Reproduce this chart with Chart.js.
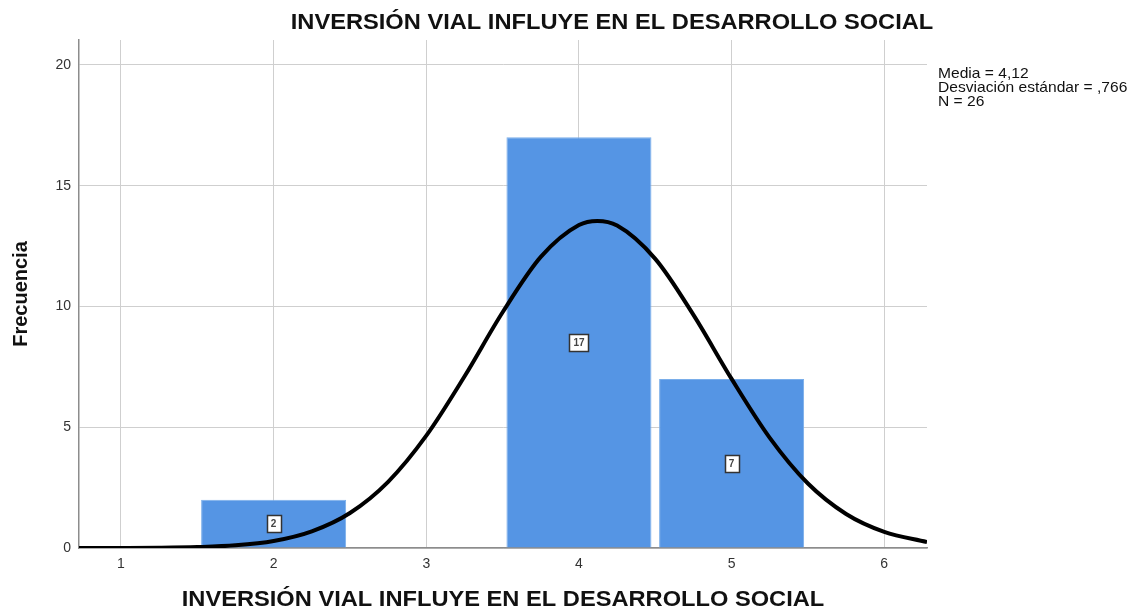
<!DOCTYPE html>
<html>
<head>
<meta charset="utf-8">
<script src="https://cdn.jsdelivr.net/npm/chart.js@4/dist/chart.umd.min.js"></script>
<style>
  html, body { margin: 0; padding: 0; background: #fff; }
  #wrap { width: 1137px; height: 609px; }
</style>
</head>
<body>
<div id="wrap"><canvas id="histo" width="1137" height="609"></canvas></div>
<script>
// --- datos del histograma ---
var binCenters = [2, 4, 5];
var frequencies = [2, 17, 7];

// curva normal
var curveX = [0.725, 1, 1.25, 1.5, 1.75, 2, 2.25, 2.5, 2.75, 3, 3.25, 3.5, 3.75, 4, 4.12, 4.25, 4.5, 4.75, 5, 5.25, 5.5, 5.75, 6, 6.28];
var curveY = [0.0, 0.003, 0.012, 0.04, 0.11, 0.29, 0.69, 1.45, 2.74, 4.65, 7.10, 9.76, 12.05, 13.37, 13.54, 13.35, 11.97, 9.65, 7.00, 4.56, 2.67, 1.41, 0.67, 0.25];

var xTicks = [1, 2, 3, 4, 5, 6];
var yTicks = [0, 5, 10, 15, 20];

var titleText = 'INVERSIÓN VIAL INFLUYE EN EL DESARROLLO SOCIAL';
var yTitle = 'Frecuencia';
var statsLines = ['Media = 4,12', 'Desviación estándar = ,766', 'N = 26'];

var FONT = '"Liberation Sans", Arial, sans-serif';
var STRETCH = 1.075; // el original está algo estirado en horizontal

// texto estirado horizontalmente
function stretchText(ctx, txt, x, y, align) {
    var w = ctx.measureText(txt).width * STRETCH;
    var left = x;
    if (align === 'center') left = x - w / 2;
    ctx.save();
    ctx.textAlign = 'left';
    ctx.translate(left, y);
    ctx.scale(STRETCH, 1);
    ctx.fillText(txt, 0, 0);
    ctx.restore();
}

// --- textos y etiquetas de las barras ---
var textPlugin = {
    id: 'spssText',
    afterDatasetsDraw: function(chart) {
        var ctx = chart.ctx;
        ctx.save();

        // etiquetas de frecuencia dentro de las barras
        var meta = chart.getDatasetMeta(1);
        ctx.font = 'bold 10px ' + FONT;
        ctx.textAlign = 'center';
        ctx.textBaseline = 'middle';
        meta.data.forEach(function(bar, i) {
            var txt = String(frequencies[i]);
            var cy = (bar.y + bar.base) / 2;
            var w = Math.round(ctx.measureText(txt).width + 8);
            var h = 17;
            var bx = Math.round(bar.x - w / 2) + 0.5;
            var by = Math.round(cy - h / 2) + 0.5;
            ctx.fillStyle = '#fff';
            ctx.fillRect(bx, by, w, h);
            ctx.strokeStyle = '#333';
            ctx.lineWidth = 1.5;
            ctx.strokeRect(bx, by, w, h);
            ctx.fillStyle = '#444';
            ctx.fillText(txt, bar.x, cy + 1);
        });
        ctx.restore();
    },
    afterDraw: function(chart) {
        var ctx = chart.ctx;
        var area = chart.chartArea;
        ctx.save();
        ctx.fillStyle = '#111';
        ctx.textBaseline = 'middle';

        // título principal
        ctx.font = 'bold 22px ' + FONT;
        stretchText(ctx, titleText, 612, 23, 'center');

        // título eje x
        stretchText(ctx, titleText, (area.left + area.right) / 2, 600, 'center');

        // título eje y
        ctx.save();
        ctx.translate(21, (area.top + area.bottom) / 2);
        ctx.rotate(-Math.PI / 2);
        ctx.font = 'bold 20px ' + FONT;
        ctx.textAlign = 'center';
        ctx.fillText(yTitle, 0, 0);
        ctx.restore();

        // estadísticos
        ctx.font = '14.5px ' + FONT;
        ctx.fillStyle = '#111';
        statsLines.forEach(function(line, i) {
            stretchText(ctx, line, 938, 73.5 + i * 14, 'left');
        });
        ctx.restore();
    }
};

var ctx = document.getElementById('histo').getContext('2d');
var chart = new Chart(ctx, {
    data: {
        datasets: [
            {
                type: 'line',
                data: curveX.map(function(x, i) { return { x: x, y: curveY[i] }; }),
                borderColor: '#000',
                borderWidth: 4,
                pointRadius: 0,
                cubicInterpolationMode: 'monotone',
                fill: false,
                order: 0
            },
            {
                type: 'bar',
                data: binCenters.map(function(x, i) { return { x: x, y: frequencies[i] }; }),
                backgroundColor: '#5595E4',
                borderColor: '#7aaeea',
                borderWidth: 1,
                categoryPercentage: 1,
                barPercentage: 0.95,
                order: 1
            }
        ]
    },
    options: {
        responsive: false,
        animation: false,
        layout: { padding: { top: 40, right: 210, left: 0, bottom: 0 } },
        plugins: {
            legend: { display: false },
            tooltip: { enabled: false },
            title: { display: false }
        },
        scales: {
            x: {
                type: 'linear',
                offset: false,
                min: 0.725,
                max: 6.28,
                afterBuildTicks: function(axis) {
                    axis.ticks = xTicks.map(function(v) { return { value: v }; });
                },
                afterFit: function(axis) { axis.height = 61; },
                grid: { color: '#cfcfcf', lineWidth: 1, drawTicks: false, offset: false },
                border: { color: '#8c8c8c', width: 1.5 },
                ticks: {
                    color: '#333',
                    font: { family: FONT, size: 14 },
                    padding: 8,
                    maxRotation: 0
                }
            },
            y: {
                type: 'linear',
                min: 0,
                max: 21.03,
                afterBuildTicks: function(axis) {
                    axis.ticks = yTicks.map(function(v) { return { value: v }; });
                },
                afterFit: function(axis) { axis.width = 79; },
                grid: { color: '#cfcfcf', lineWidth: 1, drawTicks: false },
                border: { color: '#8c8c8c', width: 1.5 },
                ticks: {
                    color: '#333',
                    font: { family: FONT, size: 14 },
                    padding: 8
                }
            }
        }
    },
    plugins: [textPlugin]
});
</script>
</body>
</html>
